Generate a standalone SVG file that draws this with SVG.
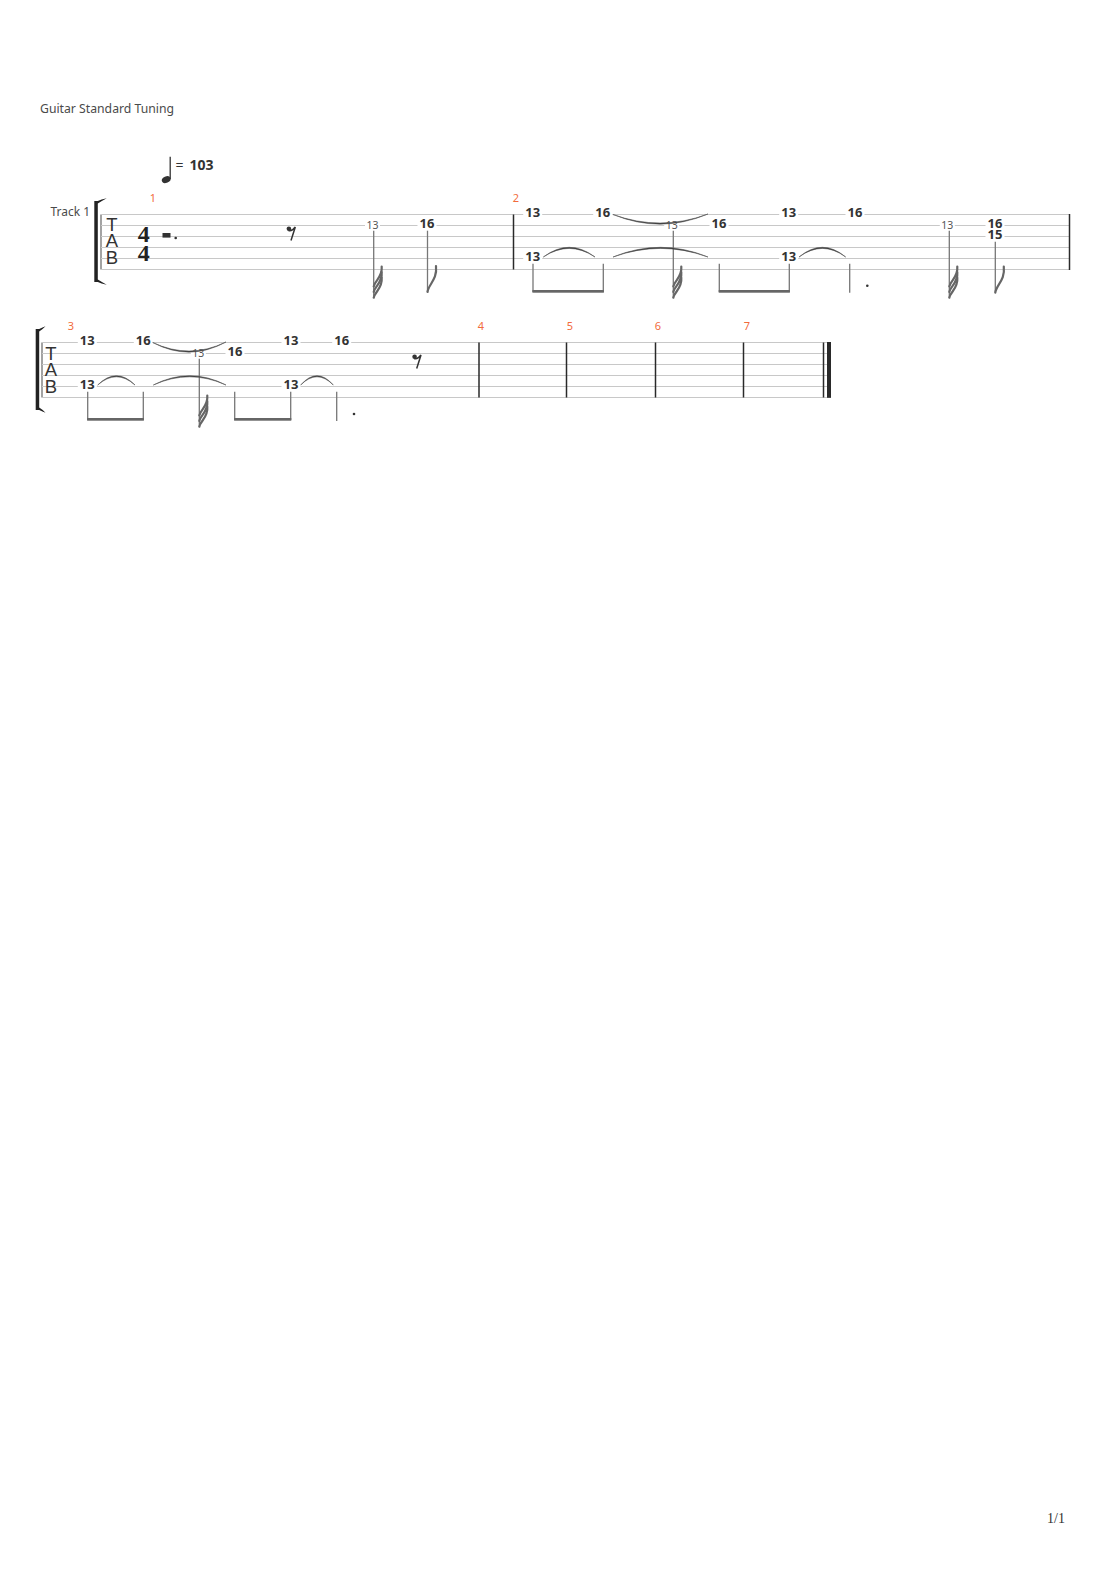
<svg xmlns="http://www.w3.org/2000/svg" width="1110" height="1570" viewBox="0 0 1110 1570">
<style>
.bg{fill:#ffffff}
.sl{stroke:#c8c8c8;stroke-width:1;fill:none}
.bar{stroke:#2a2a2a;stroke-width:1.5}
.lab{font-family:"Noto Sans","Open Sans",sans-serif;font-size:12.5px;fill:#4a4a4a}
.mn{font-family:"Noto Sans","Open Sans",sans-serif;font-size:11px;fill:#f26b3c;text-anchor:middle}
.n{font-family:"Noto Sans","Open Sans",sans-serif;font-size:13px;font-weight:bold;fill:#333;text-anchor:middle}
.s{font-family:"Noto Sans","Open Sans",sans-serif;font-size:10.5px;fill:#555;text-anchor:middle}
.tab{font-family:"Liberation Sans",Arial,sans-serif;font-size:18.5px;fill:#333;text-anchor:middle}
.ts{font-family:"Liberation Serif","Times New Roman",serif;font-size:24px;font-weight:bold;fill:#222;text-anchor:middle}
.nb{fill:#ffffff}
.st{stroke:#777;stroke-width:1.3;fill:none}
.fl{stroke:#666;stroke-width:2.2;fill:none;stroke-linecap:round}
.bm{fill:#666}
.tie{fill:#333;stroke:#555;stroke-width:0.6}
.brk{fill:#222}
</style>
<rect class="bg" x="0" y="0" width="1110" height="1570"/>

<g id="header">
<text class="lab" x="40" y="113" textLength="134" lengthAdjust="spacingAndGlyphs">Guitar Standard Tuning</text>
</g>

<g id="tempo">
<ellipse cx="166.2" cy="179.6" rx="4.6" ry="3.2" transform="rotate(-25 166.2 179.6)" fill="#333"/>
<line x1="170.2" y1="179" x2="170.2" y2="156.7" stroke="#333" stroke-width="1.3"/>
<text x="175.5" y="170" font-family="Noto Sans, sans-serif" font-size="14" fill="#333">=</text>
<text x="189.5" y="170" font-family="Noto Sans, sans-serif" font-size="14" font-weight="bold" fill="#333">103</text>
</g>

<!-- System 1 -->
<g id="system1-staff">
<text class="lab" x="50.5" y="216" textLength="39.5" lengthAdjust="spacingAndGlyphs">Track 1</text>
<path class="brk" d="M94.3,201 L97.8,201 Q101,199.5 106.7,198.3 Q101,201.5 97.8,203.5 L97.8,279.5 Q101,281.5 106.7,284.7 Q101,283.5 97.8,282 L94.3,282 Z"/>
<line x1="101" y1="214.5" x2="101" y2="269.5" stroke="#666" stroke-width="1.2"/>
<line class="sl" x1="101" y1="214.5" x2="1070" y2="214.5"/>
<line class="sl" x1="101" y1="225.5" x2="1070" y2="225.5"/>
<line class="sl" x1="101" y1="236.5" x2="1070" y2="236.5"/>
<line class="sl" x1="101" y1="247.5" x2="1070" y2="247.5"/>
<line class="sl" x1="101" y1="258.5" x2="1070" y2="258.5"/>
<line class="sl" x1="101" y1="269.5" x2="1070" y2="269.5"/>
<text class="tab" x="112" y="230.5">T</text>
<text class="tab" x="112" y="247">A</text>
<text class="tab" x="112" y="263.5">B</text>
<text class="ts" x="143.7" y="241.7">4</text>
<text class="ts" x="143.7" y="260.7">4</text>
<line class="bar" x1="513.5" y1="214.5" x2="513.5" y2="269.5"/>
<line class="bar" x1="1069.5" y1="214" x2="1069.5" y2="270"/>
<text class="mn" x="153" y="202">1</text>
<text class="mn" x="516" y="202">2</text>
</g>

<g id="m1-rests">
<rect x="162.5" y="233" width="8" height="4.6" fill="#333"/>
<circle cx="175.7" cy="238" r="1.3" fill="#333"/>
<circle cx="288.9" cy="228.8" r="2.3" fill="#333"/>
<path d="M288.5,230.6 Q292,231.6 295.3,227 L291,240.5" stroke="#333" stroke-width="1.5" fill="none"/>
</g>

<g id="m1-notes">
<rect class="nb" x="365" y="220.5" width="15" height="10"/>
<text class="s" x="372.5" y="228.5">13</text>
<rect class="nb" x="417.5" y="220.5" width="19" height="10"/>
<text class="n" x="427" y="228">16</text>
</g>

<g id="m2-notes">
<rect class="nb" x="523.2" y="209.5" width="19" height="10"/>
<text class="n" x="532.7" y="217">13</text>
<rect class="nb" x="523.2" y="253.5" width="19" height="10"/>
<text class="n" x="532.7" y="261">13</text>
<rect class="nb" x="593.2" y="209.5" width="19" height="10"/>
<text class="n" x="602.7" y="217">16</text>
<rect class="nb" x="664.2" y="220.5" width="15" height="10"/>
<text class="s" x="671.7" y="228.5">13</text>
<rect class="nb" x="709.5" y="220.5" width="19" height="10"/>
<text class="n" x="719" y="228">16</text>
<rect class="nb" x="779.2" y="209.5" width="19" height="10"/>
<text class="n" x="788.7" y="217">13</text>
<rect class="nb" x="779.2" y="253.5" width="19" height="10"/>
<text class="n" x="788.7" y="261">13</text>
<rect class="nb" x="845.5" y="209.5" width="19" height="10"/>
<text class="n" x="855" y="217">16</text>
<rect class="nb" x="939.8" y="220.5" width="15" height="10"/>
<text class="s" x="947.3" y="228.5">13</text>
<rect class="nb" x="985.5" y="220.5" width="19" height="21"/>
<text class="n" x="995" y="228">16</text>
<text class="n" x="995" y="239">15</text>
</g>

<!-- System 2 -->
<g id="system2-staff">
<path class="brk" d="M35.7,329 L39.2,329 Q42.5,327.5 45.5,326.3 Q42.5,329.5 39.2,331.5 L39.2,407.5 Q42.5,409.5 45.5,412.7 Q42.5,411.5 39.2,410 L35.7,410 Z"/>
<line x1="42" y1="342.5" x2="42" y2="397.5" stroke="#666" stroke-width="1.2"/>
<line class="sl" x1="42" y1="342.5" x2="831" y2="342.5"/>
<line class="sl" x1="42" y1="353.5" x2="831" y2="353.5"/>
<line class="sl" x1="42" y1="364.5" x2="831" y2="364.5"/>
<line class="sl" x1="42" y1="375.5" x2="831" y2="375.5"/>
<line class="sl" x1="42" y1="386.5" x2="831" y2="386.5"/>
<line class="sl" x1="42" y1="397.5" x2="831" y2="397.5"/>
<text class="tab" x="51" y="359.5">T</text>
<text class="tab" x="51" y="376">A</text>
<text class="tab" x="51" y="392.5">B</text>
<line class="bar" x1="479" y1="342.5" x2="479" y2="397.5"/>
<line class="bar" x1="566.5" y1="342.5" x2="566.5" y2="397.5"/>
<line class="bar" x1="655.5" y1="342.5" x2="655.5" y2="397.5"/>
<line class="bar" x1="743.5" y1="342.5" x2="743.5" y2="397.5"/>
<line class="bar" x1="823.5" y1="342.5" x2="823.5" y2="397.5"/>
<rect x="827" y="342" width="4" height="55.8" fill="#2a2a2a"/>
<text class="mn" x="71" y="330">3</text>
<text class="mn" x="481" y="330">4</text>
<text class="mn" x="570" y="330">5</text>
<text class="mn" x="658" y="330">6</text>
<text class="mn" x="747" y="330">7</text>
</g>

<g id="m3-notes">
<rect class="nb" x="77.8" y="337.5" width="19" height="10"/>
<text class="n" x="87.3" y="345">13</text>
<rect class="nb" x="77.8" y="381.5" width="19" height="10"/>
<text class="n" x="87.3" y="389">13</text>
<rect class="nb" x="133.8" y="337.5" width="19" height="10"/>
<text class="n" x="143.3" y="345">16</text>
<rect class="nb" x="190.8" y="348.5" width="15" height="10"/>
<text class="s" x="198.3" y="356.5">13</text>
<rect class="nb" x="225.5" y="348.5" width="19" height="10"/>
<text class="n" x="235" y="356">16</text>
<rect class="nb" x="281.5" y="337.5" width="19" height="10"/>
<text class="n" x="291" y="345">13</text>
<rect class="nb" x="281.5" y="381.5" width="19" height="10"/>
<text class="n" x="291" y="389">13</text>
<rect class="nb" x="332.2" y="337.5" width="19" height="10"/>
<text class="n" x="341.7" y="345">16</text>
</g>

<g id="m3-rests">
<circle cx="354" cy="414" r="1.3" fill="#333"/>
<circle cx="414.6" cy="356.8" r="2.3" fill="#333"/>
<path d="M414.2,358.6 Q417.7,359.6 421,355 L416.7,368.5" stroke="#333" stroke-width="1.5" fill="none"/>
</g>

<g id="connectors">
<line class="st" x1="373.7" y1="230.7" x2="373.7" y2="297.7"/>
<path class="fl" d="M373.7,297.7 c1,-6 9,-9 8,-20"/>
<path class="fl" d="M373.7,292 c1,-6 9,-9 8,-20"/>
<path class="fl" d="M373.7,286.5 c1,-6 9,-9 8,-20"/>
<line class="st" x1="427.5" y1="230.7" x2="427.5" y2="292"/>
<path class="fl" d="M427.5,292 c1,-8 10,-12 8.5,-26"/>
<line class="st" x1="533" y1="263.7" x2="533" y2="292"/>
<line class="st" x1="603.3" y1="263.7" x2="603.3" y2="292"/>
<rect class="bm" x="532.4" y="290" width="71.5" height="2.7"/>
<line class="st" x1="673.3" y1="230.7" x2="673.3" y2="297.7"/>
<path class="fl" d="M673.3,297.7 c1,-6 9,-9 8,-20"/>
<path class="fl" d="M673.3,292 c1,-6 9,-9 8,-20"/>
<path class="fl" d="M673.3,286.5 c1,-6 9,-9 8,-20"/>
<line class="st" x1="719.3" y1="263.7" x2="719.3" y2="292"/>
<line class="st" x1="789.3" y1="263.7" x2="789.3" y2="292"/>
<rect class="bm" x="718.7" y="290" width="71.2" height="2.7"/>
<line class="st" x1="849.7" y1="263.7" x2="849.7" y2="292.7"/>
<circle cx="867.3" cy="285.7" r="1.3" fill="#333"/>
<line class="st" x1="949.3" y1="230.7" x2="949.3" y2="297.7"/>
<path class="fl" d="M949.3,297.7 c1,-6 9,-9 8,-20"/>
<path class="fl" d="M949.3,292 c1,-6 9,-9 8,-20"/>
<path class="fl" d="M949.3,286.5 c1,-6 9,-9 8,-20"/>
<line class="st" x1="995.3" y1="241.7" x2="995.3" y2="292.7"/>
<path class="fl" d="M995.3,292.7 c1,-8 10,-12 8.5,-26"/>
<path class="tie" d="M543.3,257 Q569.2,237.6 595,257 Q569.2,239.8 543.3,257 Z"/>
<path class="tie" d="M613,214.5 Q660.5,234 708,214 Q660.5,231.8 613,214.5 Z"/>
<path class="tie" d="M613,257 Q660.5,237.6 708,257 Q660.5,239.8 613,257 Z"/>
<path class="tie" d="M799,257 Q822.4,237.6 845.7,257 Q822.4,239.8 799,257 Z"/>
<line class="st" x1="87.7" y1="391.7" x2="87.7" y2="420"/>
<line class="st" x1="143.3" y1="391.7" x2="143.3" y2="420"/>
<rect class="bm" x="87.1" y="418" width="56.8" height="2.7"/>
<line class="st" x1="199.3" y1="358.7" x2="199.3" y2="426.7"/>
<path class="fl" d="M199.3,426.7 c1,-6 9,-9 8,-20"/>
<path class="fl" d="M199.3,421 c1,-6 9,-9 8,-20"/>
<path class="fl" d="M199.3,415.5 c1,-6 9,-9 8,-20"/>
<line class="st" x1="234.7" y1="391.7" x2="234.7" y2="420"/>
<line class="st" x1="290.7" y1="391.7" x2="290.7" y2="420"/>
<rect class="bm" x="234.1" y="418" width="57.2" height="2.7"/>
<line class="st" x1="336.7" y1="391.7" x2="336.7" y2="421"/>
<path class="tie" d="M97.7,385 Q116.4,366.4 135,385 Q116.4,368.6 97.7,385 Z"/>
<path class="tie" d="M152.7,342.5 Q189.4,362 226,342 Q189.4,359.8 152.7,342.5 Z"/>
<path class="tie" d="M153.3,385 Q189.7,366.4 226,385 Q189.7,368.6 153.3,385 Z"/>
<path class="tie" d="M300.7,385 Q317,366.4 333.3,385 Q317,368.6 300.7,385 Z"/>
</g>

<g id="footer">
<text x="1056" y="1523" font-family="Liberation Serif, serif" font-size="14" fill="#333" text-anchor="middle">1/1</text>
</g>
</svg>
